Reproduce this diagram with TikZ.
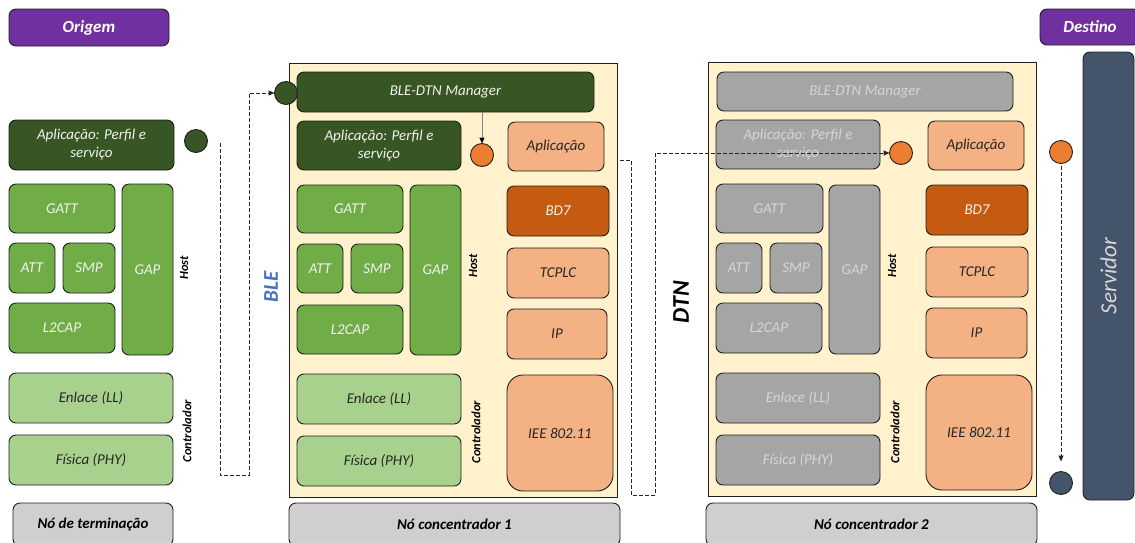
\documentclass[tikz,border=0pt]{standalone}
\usepackage{fontspec}
\setmainfont{Carlito}
\usetikzlibrary{arrows.meta}

\definecolor{edge}{HTML}{1F1F1F}
\definecolor{ink}{HTML}{262626}
\definecolor{whitish}{HTML}{F2F2F2}
\definecolor{purpleTag}{HTML}{7030A0}
\definecolor{dkgreen}{HTML}{375623}
\definecolor{midgreen}{HTML}{70AD47}
\definecolor{ltgreen}{HTML}{A9D18E}
\definecolor{cream}{HTML}{FFF2CC}
\definecolor{orangeDot}{HTML}{ED7D31}
\definecolor{peach}{HTML}{F4B183}
\definecolor{burnt}{HTML}{C55A11}
\definecolor{greybox}{HTML}{A5A5A5}
\definecolor{greytext}{HTML}{D6D6D6}
\definecolor{slate}{HTML}{44546A}
\definecolor{bargrey}{HTML}{D0CECE}
\definecolor{bleblue}{HTML}{4472C4}

% box given by its corners: name, style, x1, y1, x2, y2, text
\newcommand\stackbox[7]{%
  \node[#2, minimum width={(#5-#3)*1pt}, minimum height={(#6-#4)*1pt}]
    (#1) at ({(#3+#5)/2},{(#4+#6)/2}) {#7};}

\tikzset{
  base/.style={draw=edge, line width=0.9pt, rounded corners=7pt, inner sep=0pt,
    outer sep=0pt, align=center, font=\fontsize{15}{18}\selectfont\itshape},
  dkg/.style={base, fill=dkgreen, text=whitish},
  grn/.style={base, fill=midgreen, text=whitish},
  lgr/.style={base, fill=ltgreen, text=ink},
  pch/.style={base, fill=peach, text=ink},
  brn/.style={base, fill=burnt, text=whitish},
  gry/.style={base, fill=greybox, text=greytext},
  wifi/.style={base, fill=peach, text=ink, rounded corners=16pt},
  server/.style={base, fill=slate},
  nodebar/.style={base, fill=bargrey, text=black,
    font=\fontsize{15}{18}\selectfont\bfseries\itshape},
  tag/.style={base, fill=purpleTag, text=white,
    font=\fontsize{17}{20}\selectfont\bfseries\itshape},
  frame/.style={draw=edge, line width=1pt, fill=cream},
  dot/.style={circle, draw=edge, line width=0.9pt, minimum size=23pt,
    inner sep=0pt, outer sep=0pt},
  sidelabel/.style={rotate=90, inner sep=0pt, text=black,
    font=\fontsize{12.5}{14}\selectfont\bfseries\itshape},
  biglabel/.style={rotate=90, inner sep=0pt,
    font=\fontsize{24}{28}\selectfont\bfseries\itshape},
  link/.style={draw=ink, line width=1pt, dash pattern=on 4pt off 2pt},
  tip/.style={-{Triangle[length=6pt,width=5pt]}},
}

\begin{document}
\begin{tikzpicture}[x=1pt, y=-1pt]
\useasboundingbox (0,0) rectangle (1135,542);
\clip (0,0) rectangle (1135,542);

% ---------- end node (source) ----------
\stackbox{origem}{tag}{9}{9}{169}{46}{Origem}
\stackbox{appL}{dkg}{9}{120}{174}{170}{Aplicação: Perfil e\\serviço}
\node[dot, fill=dkgreen] (dotL) at (196,141) {};
\stackbox{gattL}{grn}{9}{184}{115}{233}{GATT}
\stackbox{gapL}{grn}{122}{184}{173}{355}{GAP}
\stackbox{attL}{grn}{9}{243}{55}{293}{ATT}
\stackbox{smpL}{grn}{63}{243}{115}{293}{SMP}
\stackbox{l2capL}{grn}{9}{303}{115}{353}{L2CAP}
\node[sidelabel] (hostL) at (184,268) {Host};
\stackbox{llL}{lgr}{9}{373}{173}{423}{Enlace (LL)}
\stackbox{phyL}{lgr}{9}{435}{173}{485}{Física (PHY)}
\node[sidelabel] (ctrlL) at (187,431) {Controlador};
\stackbox{barL}{nodebar}{13}{503}{173}{546}{Nó de terminação}

\node[biglabel, text=bleblue, font=\fontsize{21}{24}\selectfont\bfseries\itshape] (ble) at (271,287) {BLE};

% ---------- concentrator node 1 ----------
\draw[frame] (289,63) rectangle (617,497);
\stackbox{mgr1}{dkg}{297}{72}{594}{112}{BLE-DTN Manager}
\node[dot, fill=dkgreen] (mgrIn) at (286,93) {};
\stackbox{app1}{dkg}{297}{121}{461}{170}{Aplicação: Perfil e\\serviço}
\node[dot, fill=orangeDot] (dot1) at (482,155) {};
\stackbox{apl1}{pch}{508}{122}{604}{171}{Aplicação}
\stackbox{gatt1}{grn}{297}{185}{403}{233}{GATT}
\stackbox{gap1}{grn}{410}{185}{461}{355}{GAP}
\stackbox{att1}{grn}{297}{244}{343}{293}{ATT}
\stackbox{smp1}{grn}{351}{244}{403}{293}{SMP}
\stackbox{l2cap1}{grn}{297}{305}{403}{354}{L2CAP}
\node[sidelabel] (host1) at (473,266) {Host};
\stackbox{bd1}{brn}{507}{186}{609}{236}{BD7}
\stackbox{tcp1}{pch}{507}{248}{609}{298}{TCPLC}
\stackbox{ip1}{pch}{507}{309}{607}{359}{IP}
\stackbox{wifi1}{wifi}{507}{375}{613}{491}{IEE 802.11}
\stackbox{ll1}{lgr}{297}{374}{461}{424}{Enlace (LL)}
\stackbox{phy1}{lgr}{297}{436}{461}{486}{Física (PHY)}
\node[sidelabel] (ctrl1) at (476,432) {Controlador};
\stackbox{bar1}{nodebar}{289}{503}{620}{546}{Nó concentrador 1}

\draw[draw=greybox!80!black, line width=1pt,
  -{Triangle[length=6pt,width=5pt,color=black]}] (mgr1.south -| dot1) -- (dot1);

\node[biglabel, text=black] (dtn) at (681,302) {DTN};

% ---------- concentrator node 2 ----------
\draw[frame] (708,62) rectangle (1036,496);
\stackbox{mgr2}{gry}{717}{72}{1013}{111}{BLE-DTN Manager}
\stackbox{app2}{gry}{716}{120}{880}{169}{Aplicação: Perfil e\\serviço}
\node[dot, fill=orangeDot] (dot2) at (901,153) {};
\stackbox{apl2}{pch}{928}{121}{1024}{170}{Aplicação}
\stackbox{gatt2}{gry}{716}{184}{823}{233}{GATT}
\stackbox{gap2}{gry}{829}{185}{880}{354}{GAP}
\stackbox{att2}{gry}{716}{243}{762}{293}{ATT}
\stackbox{smp2}{gry}{770}{243}{822}{293}{SMP}
\stackbox{l2cap2}{gry}{716}{303}{822}{353}{L2CAP}
\node[sidelabel] (host2) at (892,266) {Host};
\stackbox{bd2}{brn}{926}{185}{1028}{235}{BD7}
\stackbox{tcp2}{pch}{926}{247}{1028}{297}{TCPLC}
\stackbox{ip2}{pch}{926}{308}{1027}{358}{IP}
\stackbox{wifi2}{wifi}{926}{375}{1032}{490}{IEE 802.11}
\stackbox{ll2}{gry}{716}{373}{880}{423}{Enlace (LL)}
\stackbox{phy2}{gry}{716}{435}{880}{485}{Física (PHY)}
\node[sidelabel] (ctrl2) at (895,432) {Controlador};
\stackbox{bar2}{nodebar}{706}{503}{1037}{546}{Nó concentrador 2}

% ---------- destination ----------
\stackbox{destino}{tag}{1040}{9}{1140}{45}{Destino}
\stackbox{servidor}{server}{1083}{52}{1134}{500}{}
\node[rotate=90, text=greytext, font=\fontsize{23}{26}\selectfont\itshape]
  (servlabel) at (servidor.center) {Servidor};
\node[dot, fill=orangeDot] (dot3) at (1061,152) {};
\node[dot, fill=slate] (dot4) at (1061,483) {};

% ---------- dashed message paths ----------
\coordinate (p1a) at (220,143);
\coordinate (p1b) at (249,475);
\draw[link, tip] (p1a) |- (p1b) |- (mgrIn);

\coordinate (p2a) at (620,160);
\coordinate (p2b) at (631,495);
\coordinate (p2c) at (655,153);
\draw[link, tip] (p2a) -| (p2b) -| (p2c) -- (dot2);

\draw[link, tip, shorten <=2pt, shorten >=10pt] (dot3) -- (dot4);
\end{tikzpicture}
\end{document}
